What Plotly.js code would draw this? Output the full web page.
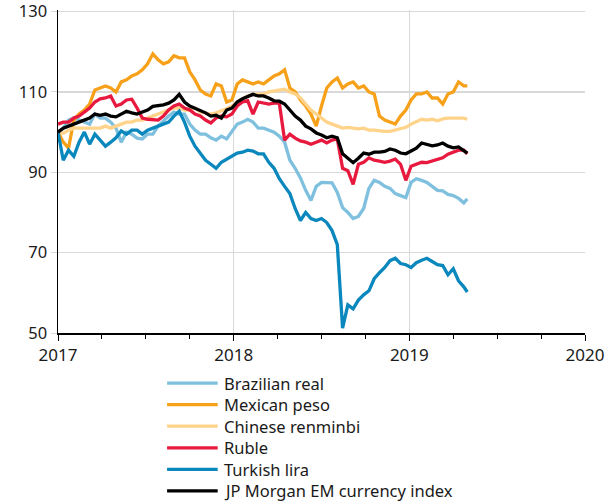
<!DOCTYPE html>
<html>
<head>
<meta charset="utf-8">
<script src="https://cdn.plot.ly/plotly-3.0.1.min.js"></script>
<style>
html,body{margin:0;padding:0;background:#fff;}
#chart{width:616px;height:504px;}
</style>
</head>
<body>
<div id="chart"></div>
<script>
// Decimal-year sample positions (index base 100 = start of 2017)
var years = [
2017.00,2017.03,2017.06,2017.09,2017.12,2017.15,2017.18,2017.21,2017.24,2017.27,
2017.30,2017.33,2017.36,2017.39,2017.42,2017.45,2017.48,2017.51,2017.54,2017.57,
2017.60,2017.63,2017.66,2017.69,2017.72,2017.75,2017.78,2017.81,2017.84,2017.87,
2017.90,2017.93,2017.96,2017.99,2018.02,2018.05,2018.08,2018.11,2018.14,2018.17,
2018.20,2018.23,2018.26,2018.29,2018.32,2018.35,2018.38,2018.41,2018.44,2018.47,
2018.50,2018.53,2018.56,2018.59,2018.62,2018.65,2018.68,2018.71,2018.74,2018.77,
2018.80,2018.83,2018.86,2018.89,2018.92,2018.95,2018.98,2019.01,2019.04,2019.07,
2019.10,2019.13,2019.16,2019.19,2019.22,2019.25,2019.28,2019.31,2019.33];

var brazilianReal = [
100,101,103,103.5,103,102.5,102,104.5,103.5,103.5,
102.5,101,97.5,100,99.5,98.5,98.3,99.5,99.5,101.5,
102.8,104,105,104.5,104.5,102,100.5,99.5,99.5,98.6,
98,99,98.3,100.3,102,102.5,103.2,102.5,101,101,
100.5,100,99,97.5,93,91,88.6,85.5,83,86.5,
87.5,87.4,87.4,85,81.2,80,78.5,79,81,86,
88,87.5,86.5,86,84.7,84.2,83.7,87.5,88.4,88,
87.5,86.5,85.5,85.4,84.5,84.2,83.5,82.4,83.4];

var mexicanPeso = [
100,97.5,96,103,104.5,105.5,107,110.5,111,111.5,
111,110,112.5,113,114,114.5,115.5,117,119.5,118,
117,117.5,119,118.5,118.5,115,113,110.5,109.5,109,
112,111.5,107.5,108,112,113,112.5,112,112.5,112,
113,114,114.5,115.5,111,110,108,106.5,104.5,101.5,
106.5,111,112.5,113.5,111,112,112.5,111,111.5,110,
109.5,104,103,102.5,102,104,105.5,108,109.5,109.5,
110,108.5,108.5,107,109.5,110,112.5,111.5,111.5];

var chineseRenminbi = [
100,99.7,100.5,101,101,101,101,101,101,101.5,
101,101.5,102,102.5,102.5,103,103,103.5,104,104.5,
105,105.5,106,106,105.5,105.5,106,105,104.8,104.5,
104.8,105.2,105.8,106.5,107.5,108.2,109,109.4,109.5,109.5,
110,110.2,110.5,110.7,110,109.5,108.5,107,105.5,104.5,
103.5,102.5,102,101.5,101,101.2,101,100.8,101,100.5,
100.5,100.3,100.2,100.2,100.5,100.8,101.2,102,102.5,103.2,
103,103.2,102.8,103.3,103.5,103.5,103.3,103.5,103.2];

var ruble = [
102,102.5,102.5,103.5,104,105,106,107.5,108.3,108.5,
109,106.5,107,108,108.2,106,103.5,103.2,103.2,103,
104,105.5,106.5,107,106,105.5,104.5,104,103,102.3,
103.5,104,103.8,104.5,106.5,107.5,107.8,104.5,107.5,107.2,
107,107.2,107.2,98,99.5,98.5,97.8,97.5,97,97.5,
98,97.3,98,98.3,91,90.4,87,92,92.5,93.6,
93,92.8,92.5,92.8,93.3,92,88,91.5,92.1,92.5,
92.4,92.8,93.3,93.6,94.5,95,95.5,95.5,94.6];

var turkishLira = [
100,93,95.5,94,97.5,100,97,99.5,98,96.5,
97.5,98.6,100.3,99.5,100.5,100.5,99.5,100.5,101,101.5,
101.8,102.5,104,105.2,102.5,99,96.5,94.6,93,92,
91,92.5,93.3,94,94.8,95,95.5,95.3,94.6,94.6,
92.5,91,88.4,86.5,84.7,81,78,80,78.5,78,
78.5,77.5,75.5,72,51.2,57,56,58.2,59.5,60.5,
63.5,65,66.3,68,68.6,67.3,67,66.3,67.5,68.1,
68.6,67.8,67,66.8,64.5,66,63,61.5,60.2];

var jpMorganEM = [
100,101,101.5,102,102.5,103,103.5,104.5,104.2,104.5,
104,103.8,104.5,105.2,104.8,104.5,105,105.5,106.4,106.5,
106.8,107.2,108,109.4,107.5,106.5,106,105.5,104.8,104,
104.2,103.5,105.5,106,107.5,108.3,108.8,109.4,109,109,
108.5,107.8,107.7,107,105.5,104,103,101.5,100.8,99.8,
99.3,98.6,99,98.6,94.6,93.5,92.4,93.5,94.8,94.5,
95,95,95.2,95.8,95.5,94.8,94.6,95.3,96,97.3,
97,96.6,96.8,97.3,96.5,96.1,96.3,95.5,94.8];

var seriesNames = ["Brazilian real","Mexican peso","Chinese renminbi","Ruble","Turkish lira","JP Morgan EM currency index"];
var seriesData = [brazilianReal, mexicanPeso, chineseRenminbi, ruble, turkishLira, jpMorganEM];
var seriesColors = ["#7fc0df","#f7a11a","#ffd38a","#e8193f","#0a87bd","#000000"];

var xTicks = [2017, 2018, 2019, 2020];
var xTickText = ["2017", "2018", "2019", "2020"];
var yTicks = [50, 70, 90, 110, 130];

var traces = seriesData.map(function(d, i){
  return {
    x: years, y: d, type: "scatter", mode: "lines",
    name: seriesNames[i], showlegend: false,
    line: {color: seriesColors[i], width: 3.3}
  };
});

// Legend drawn below the plot (paper coordinates)
var legX0 = 0.207, legX1 = 0.303, legTextX = 0.311;
var legY0 = -0.155, legDY = 0.0668;
var shapes = [], annotations = [];
seriesNames.forEach(function(n, i){
  var yy = legY0 - i * legDY;
  shapes.push({type: "line", xref: "paper", yref: "paper",
    x0: legX0, x1: legX1, y0: yy, y1: yy,
    line: {color: seriesColors[i], width: 3.2}});
  annotations.push({xref: "paper", yref: "paper", x: legTextX, y: yy,
    xanchor: "left", yanchor: "middle", showarrow: false, text: n,
    font: {size: 16.5, color: "#1a1a1a"}});
});

var font = "Noto Sans, DejaVu Sans, sans-serif";
var layout = {
  width: 616, height: 504,
  margin: {l: 58, r: 31, t: 10, b: 171},
  paper_bgcolor: "#fff", plot_bgcolor: "#fff",
  showlegend: false,
  font: {family: font, color: "#1a1a1a", size: 16},
  shapes: shapes, annotations: annotations,
  xaxis: {
    range: [2017, 2020],
    tickvals: xTicks, ticktext: xTickText,
    ticks: "outside", ticklen: 6, tickcolor: "#000", tickwidth: 1,
    minor: {dtick: 0.25, tick0: 2017, ticks: "outside", ticklen: 4, tickcolor: "#000", showgrid: false},
    showgrid: true, gridcolor: "#d9d9d9", gridwidth: 1.5,
    showline: true, linecolor: "#000", linewidth: 1.5,
    zeroline: false, automargin: false, ticklabeloverflow: "allow",
    tickfont: {family: font, size: 17, color: "#1a1a1a"}
  },
  yaxis: {
    range: [50, 130.4],
    tickvals: yTicks,
    ticks: "outside", ticklen: 6, tickcolor: "#d9d9d9",
    showgrid: true, gridcolor: "#d9d9d9", gridwidth: 1.5,
    showline: true, linecolor: "#000", linewidth: 1.5,
    zeroline: false, automargin: false, ticklabeloverflow: "allow",
    tickfont: {family: font, size: 16.5, color: "#1a1a1a"}
  }
};

Plotly.newPlot("chart", traces, layout, {displayModeBar: false, staticPlot: true});
</script>
</body>
</html>
